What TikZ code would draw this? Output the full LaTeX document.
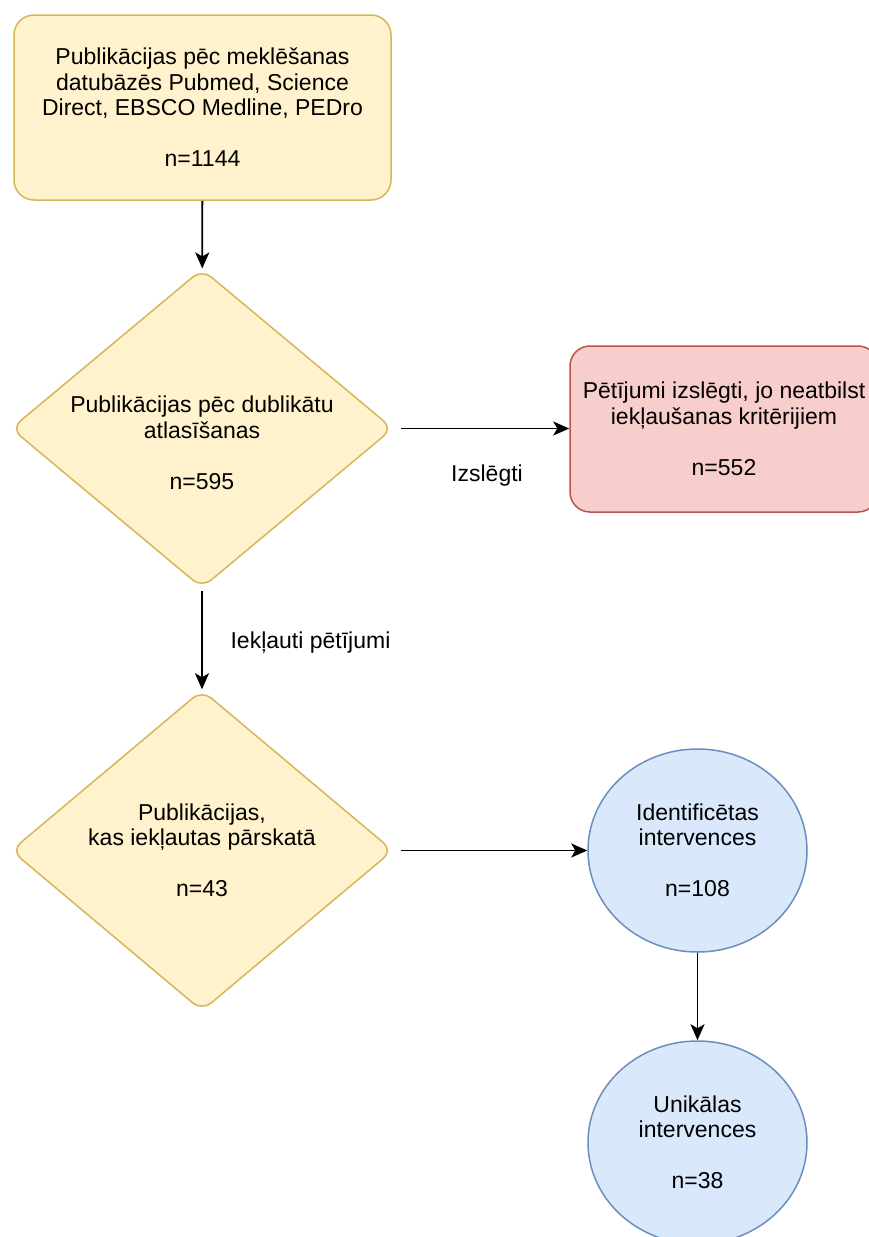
\documentclass[tikz,border=0pt]{standalone}
\usepackage{fontspec}
\setmainfont{Liberation Sans}
\usetikzlibrary{shapes.geometric,arrows.meta}

\definecolor{yfill}{HTML}{FFF2CC}
\definecolor{ydraw}{HTML}{D6B656}
\definecolor{rfill}{HTML}{F8CECC}
\definecolor{rdraw}{HTML}{B85450}
\definecolor{bfill}{HTML}{DAE8FC}
\definecolor{bdraw}{HTML}{6C8EBF}

\begin{document}
\begin{tikzpicture}[x=1pt,y=-1pt,
	txt/.style={align=center,font=\fontsize{23}{25.5}\selectfont},
	yellowbox/.style={draw=ydraw,fill=yfill,line width=1.5pt,rounded corners=20pt,txt},
	redbox/.style={draw=rdraw,fill=rfill,line width=1.5pt,rounded corners=20pt,txt},
	decision/.style={diamond,draw=ydraw,fill=yfill,line width=1.5pt,rounded corners=12pt,minimum width=382pt,minimum height=319pt,inner sep=0pt,txt},
	interv/.style={ellipse,draw=bdraw,fill=bfill,line width=1.5pt,minimum width=219pt,minimum height=203pt,inner sep=0pt,txt},
	arr/.style={-{Stealth[length=16pt,width=14pt,inset=4pt]},line width=1.8pt}]
	
	\useasboundingbox (0,0) rectangle (869,1237);
	\clip (0,0) rectangle (869,1237);
	\fill[white] (0,0) rectangle (869,1237);
	
	\node[yellowbox,minimum width=377pt,minimum height=185pt] (pub) at (202.5,107.5) {Publikācijas pēc meklēšanas\\datubāzēs Pubmed, Science\\Direct, EBSCO Medline, PEDro\\[25.5pt]n=1144};
	\node[decision] (dub) at (202,428.5) {};
	\node[txt] (dubtxt) at (202,443) {Publikācijas pēc dublikātu\\atlasīšanas\\[25.5pt]n=595};
	\node[redbox,minimum width=308pt,minimum height=166pt] (excl) at (724,429) {Pētījumi izslēgti, jo neatbilst\\iekļaušanas kritērijiem\\[25.5pt]n=552};
	\node[decision] (incl) at (202,850.5) {Publikācijas,\\kas iekļautas pārskatā\\[25.5pt]n=43};
	\node[interv] (ident) at (697.5,850.5) {Identificētas\\intervences\\[25.5pt]n=108};
	\node[interv] (unik) at (697.5,1142.5) {Unikālas\\intervences\\[25.5pt]n=38};
	
	\draw[arr] (pub) -- (dub);
	\draw[arr,shorten <=7pt] (dub.east) -- (excl.west |- dub.east);
	\draw[arr,shorten <=2pt] (dub.south) -- (incl.north);
	\draw[arr,shorten <=7pt] (incl.east) -- (ident.west);
	\draw[arr] (ident) -- (unik);
	
	\node[txt] (izsl) at (487,476) {Izslēgti};
	\node[txt] (iekl) at (310.5,643) {Iekļauti pētījumi};
\end{tikzpicture}
\end{document}
